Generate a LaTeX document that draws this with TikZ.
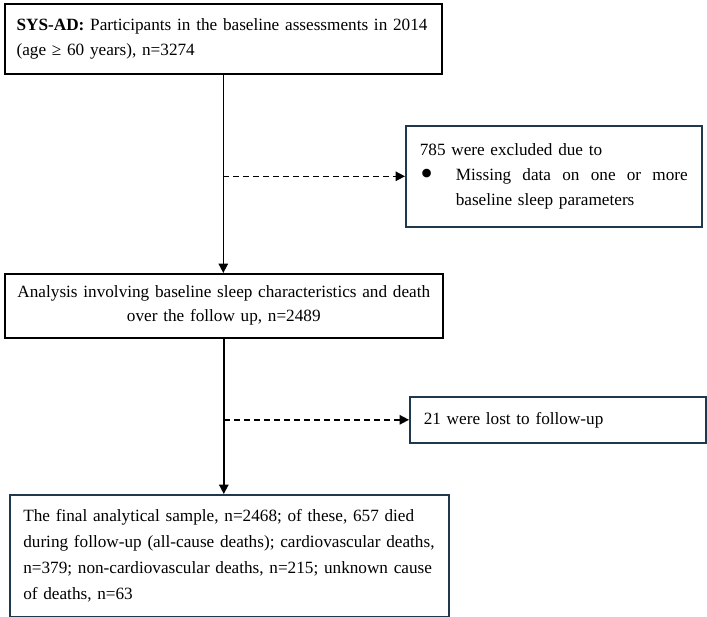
\documentclass[tikz,border=0pt]{standalone}
\usepackage{fontspec}
\setmainfont{Liberation Serif}
\usetikzlibrary{arrows.meta}
\definecolor{boxblue}{RGB}{31,56,77}
\begin{document}
\begin{tikzpicture}[x=0.75pt,y=-0.75pt,
  every node/.style={font=\fontsize{12.9pt}{19pt}\selectfont},
  blackbox/.style={draw=black,line width=1.2pt,anchor=north west,inner sep=0pt},
  bluebox/.style={draw=boxblue,line width=1.2pt,anchor=north west,inner sep=0pt},
  flow/.style={line width=1.2pt,-{Triangle[length=7pt,width=7pt]}},
  side/.style={flow,dash pattern=on 4.5pt off 3pt}]
\useasboundingbox (0,0) rectangle (707,617);

\node[blackbox,minimum width=327.75pt,minimum height=52.5pt,text width=310pt,align=left] (start) at (4,3)
  {\textbf{SYS-AD:} Participants in the baseline assessments in 2014\\(age ≥ 60 years), n=3274};

\node[bluebox,minimum width=222pt,minimum height=75.75pt,text width=201pt,align=left] (excl) at (405,125)
  {785 were excluded due to\\
   \makebox[27pt][l]{\hspace{0.5pt}\raisebox{-4pt}{\scalebox{2.1}{\textbullet}}}\parbox[t]{174pt}{\makebox[174pt][l]{Missing\hfill data\hfill on\hfill one\hfill or\hfill more}\\baseline sleep parameters}};

\node[blackbox,minimum width=328.5pt,minimum height=48pt,text width=320pt,align=center,
  font=\fontsize{12.9pt}{18pt}\selectfont] (anal) at (4,273)
  {Analysis involving baseline sleep characteristics and death\\over the follow up, n=2489};

\node[bluebox,minimum width=222pt,minimum height=34.5pt,text width=201pt,align=left] (lost) at (409,396)
  {21 were lost to follow-up};

\node[bluebox,minimum width=329.25pt,minimum height=91.5pt,text width=309pt,align=left,
  font=\fontsize{12.9pt}{19.5pt}\selectfont] (final) at (9,494)
  {\makebox[309pt][s]{The final analytical sample, n=2468; of these, 657 died}\\
   \makebox[309pt][s]{during follow-up (all-cause deaths); cardiovascular deaths,}\\
   \makebox[309pt][s]{n=379; non-cardiovascular deaths, n=215; unknown cause}\\
   of deaths, n=63};

\draw[flow] (start.south) -- (start.south |- anal.north);
\draw[side] (start.south |- excl.west) -- (excl.west);
\draw[flow] (anal.south) -- (anal.south |- final.north);
\draw[side] (anal.south |- lost.west) -- (lost.west);
\end{tikzpicture}
\end{document}
